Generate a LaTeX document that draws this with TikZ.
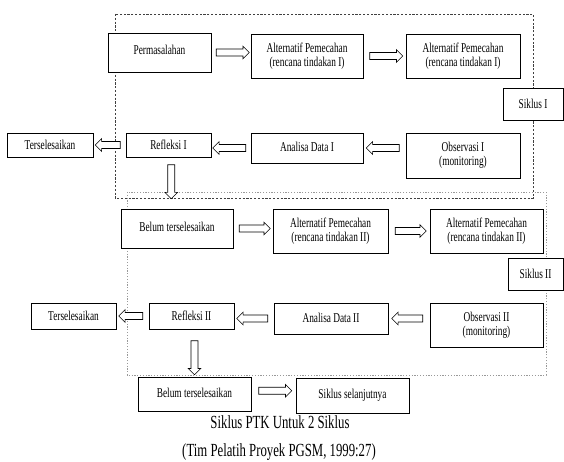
\documentclass[tikz,border=0pt]{standalone}
\usepackage{fontspec}
\setmainfont{Liberation Serif}
\newfontfamily\narrowfont[FakeStretch=0.69]{Liberation Serif}
\usetikzlibrary{shapes.arrows}
\begin{document}
\begin{tikzpicture}[x=1pt,y=-1pt,
  box/.style={draw=black, line width=0.9pt, fill=white, inner sep=0pt, align=center,
    font=\narrowfont\fontsize{13.5}{14}\selectfont},
  barr/.style={draw=black, line width=0.6pt, fill=white, single arrow, inner xsep=0pt, inner ysep=3.2pt,
    single arrow head extend=2.8pt, text height=0pt, text depth=0pt, text width=0pt, minimum height=33pt},
  darr/.style={barr, rotate=-90, minimum height=34pt},
  cyc1/.style={draw=black!75, line width=0.7pt, dash pattern=on 2.2pt off 1.6pt},
  cyc2/.style={draw=black!40, line width=0.9pt, dash pattern=on 1.2pt off 1.6pt},
  captext/.style={font=\narrowfont\fontsize{18.5}{20}\selectfont, inner sep=0pt}]
\useasboundingbox (0,0) rectangle (564,462);
% cycle frames
\draw[cyc1] (115,14) rectangle (533,198);
\draw[cyc2] (127,192) rectangle (546,375);
% cycle I boxes
\node[box, minimum width=103, minimum height=39] (p) at (159.5,52.5) {\raisebox{5pt}{Permasalahan}};
\node[box, minimum width=112, minimum height=44] (a1) at (307,56) {Alternatif Pemecahan\\(rencana tindakan I)};
\node[box, minimum width=114, minimum height=44] (a2) at (463,56) {Alternatif Pemecahan\\(rencana tindakan I)};
\node[box, minimum width=60, minimum height=32] (s1) at (533,104) {Siklus I};
\node[box, minimum width=114, minimum height=45] (o1) at (463,155.5) {Observasi I\\(monitoring)};
\node[box, minimum width=112, minimum height=30] (d1) at (307,148) {\raisebox{2pt}{Analisa Data I}};
\node[box, minimum width=85, minimum height=24] (r1) at (168.5,145) {Refleksi I};
\node[box, minimum width=86, minimum height=24] (t1) at (50,145) {Terselesaikan};
% cycle II boxes
\node[box, minimum width=112, minimum height=39] (b1) at (177,228.5) {\raisebox{3pt}{Belum terselesaikan}};
\node[box, minimum width=115, minimum height=44] (a3) at (330.5,231) {Alternatif Pemecahan\\(rencana tindakan II)};
\node[box, minimum width=113, minimum height=44] (a4) at (486.5,231) {Alternatif Pemecahan\\(rencana tindakan II)};
\node[box, minimum width=55, minimum height=32] (s2) at (535.5,274) {Siklus II};
\node[box, minimum width=113, minimum height=44] (o2) at (486.5,325) {Observasi II\\(monitoring)};
\node[box, minimum width=114, minimum height=31] (d2) at (331,318.5) {\raisebox{2pt}{Analisa Data II}};
\node[box, minimum width=85, minimum height=26] (r2) at (191.5,316) {Refleksi II};
\node[box, minimum width=85, minimum height=26] (t2) at (73.5,316) {Terselesaikan};
\node[box, minimum width=113, minimum height=34] (b2) at (194.5,394) {\raisebox{3pt}{Belum terselesaikan}};
\node[box, minimum width=113, minimum height=35] (n) at (352.5,395.5) {\raisebox{2pt}{Siklus selanjutnya}};
% captions
\node[captext] (c1) at (280,422) {Siklus PTK Untuk 2 Siklus};
\node[captext] (c2) at (279,452) {(Tim Pelatih Proyek PGSM, 1999:27)};
% block arrows, cycle I
\path (p.east) -- (a1.west |- p.east) node[midway, barr] {};
\path (a1.east) -- (a2.west) node[midway, barr] {};
\path (o1.west |- d1.east) -- (d1.east) node[midway, barr, shape border rotate=180] {};
\path (d1.west) -- (r1.east |- d1.west) node[midway, barr, shape border rotate=180] {};
\path (r1.west) -- (t1.east) node[midway, barr, shape border rotate=180, minimum height=25pt] {};
\path (r1.south) -- (b1.north) node[midway, xshift=-1.5pt, yshift=3pt, darr] {};
% block arrows, cycle II
\path (b1.east) -- (a3.west |- b1.east) node[midway, barr, minimum height=31pt] {};
\path (a3.east) -- (a4.west) node[midway, barr, minimum height=31pt] {};
\path (o2.west |- d2.east) -- (d2.east) node[midway, barr, shape border rotate=180, minimum height=31pt] {};
\path (d2.west) -- (r2.east |- d2.west) node[midway, barr, shape border rotate=180, minimum height=31pt] {};
\path (r2.west) -- (t2.east) node[midway, barr, shape border rotate=180, minimum height=24pt] {};
\path (r2.south) -- (b2.north) node[midway, xshift=1.5pt, yshift=-3pt, darr] {};
\path (b2.east) -- (n.west) node[midway, yshift=4pt, barr] {};
\end{tikzpicture}
\end{document}
